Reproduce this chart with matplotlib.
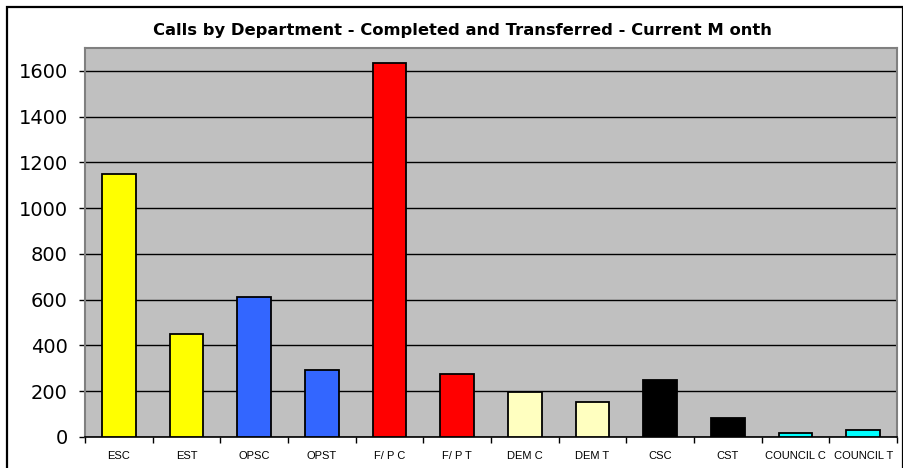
import matplotlib.pyplot as plt
from matplotlib.patches import Rectangle

# data
depts = ['ESC', 'EST', 'OPSC', 'OPST', 'F/ P C', 'F/ P T',
         'DEM C', 'DEM T', 'CSC', 'CST', 'COUNCIL C', 'COUNCIL T']
calls = [1148, 452, 614, 294, 1634, 277, 196, 154, 249, 82, 16, 32]
colours = ['#FFFF00', '#FFFF00', '#3366FF', '#3366FF', '#FF0000', '#FF0000',
           '#FFFFC0', '#FFFFC0', '#000000', '#000000', '#00FFFF', '#00FFFF']

fig = plt.figure(figsize=(9.04, 4.68), dpi=100)
ax = fig.add_axes([85/904, 1-437/468, 812/904, 389/468])
ax.set_facecolor('#C0C0C0')

x = list(range(len(depts)))
ax.bar(x, calls, width=0.5, color=colours, edgecolor='black', linewidth=1.3, zorder=3)

# gitter och axlar
ax.set_ylim(0, 1700)
ax.set_xlim(-0.5, len(depts) - 0.5)
ax.set_yticks(range(0, 1601, 200))
ax.yaxis.grid(True, color='black', linewidth=1.0, zorder=1)
ax.tick_params(axis='y', length=4.5, width=1, pad=8, labelsize=14, direction='out')
for s in ['left', 'top', 'right']:
    ax.spines[s].set_color('#808080')
    ax.spines[s].set_linewidth(1.5)
ax.spines['bottom'].set_color('black')
ax.spines['bottom'].set_linewidth(1.2)

ax.set_xticks(x)
ax.set_xticklabels(depts, fontfamily='Liberation Sans', fontsize=8)
ax.tick_params(axis='x', length=0, pad=10)
ax.set_xticks([i - 0.5 for i in range(len(depts) + 1)], minor=True)
ax.tick_params(axis='x', which='minor', length=4, width=1, direction='out')

fig.text(462/904, 1-30/468, 'Calls by Department - Completed and Transferred - Current M onth',
         ha='center', va='center', fontfamily='DejaVu Sans', fontweight='bold', fontsize=11.8)

# ram runt hela diagrammet
fig.patches.append(Rectangle((7/904, -0.05), 896/904, 1.05 - 7/468, transform=fig.transFigure,
                             fill=False, edgecolor='black', linewidth=1.6))

fig.savefig('out.png', dpi=100)
